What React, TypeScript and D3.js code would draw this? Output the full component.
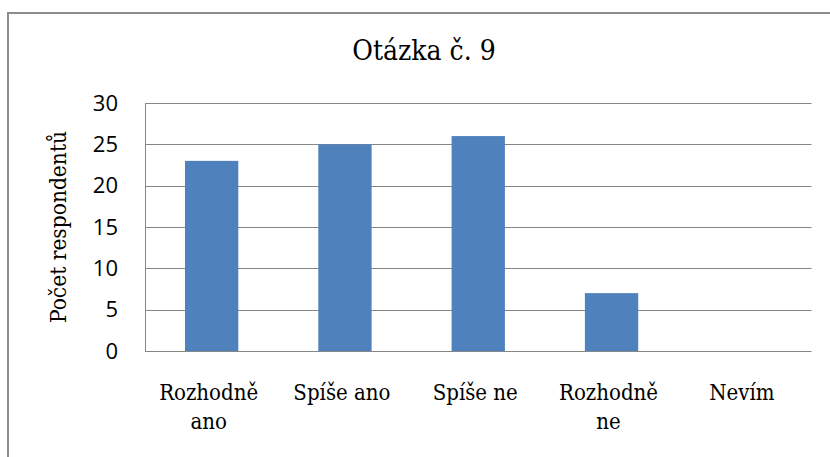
import React, { useRef, useEffect } from "react";
import * as d3 from "d3";

const categories = ["Rozhodně ano", "Spíše ano", "Spíše ne", "Rozhodně ne", "Nevím"];
const values = [23, 25, 26, 7, 0];
const yTicks = [0, 5, 10, 15, 20, 25, 30];
const title = "Otázka č. 9";
const yLabel = "Počet respondentů";

const App = () => {
  const svgRef = useRef<SVGSVGElement>(null);

  useEffect(() => {
    const width = 830;
    const height = 457;
    const plot = { left: 145, right: 811.5, top: 103, bottom: 351 };

    const svg = d3.select(svgRef.current);
    svg.selectAll("*").remove();
    svg.attr("width", width).attr("height", height);

    // outer chart frame (runs off the right and bottom of the picture)
    svg
      .append("rect")
      .attr("x", 8)
      .attr("y", 13)
      .attr("width", 840)
      .attr("height", 460)
      .attr("fill", "#fff")
      .attr("stroke", "#8c8c8c")
      .attr("stroke-width", 2);

    const x = d3
      .scaleBand()
      .domain(categories)
      .range([plot.left, plot.right])
      .paddingInner(0.6)
      .paddingOuter(0.3);

    const y = d3.scaleLinear().domain([0, 30]).range([plot.bottom, plot.top]);

    // gridlines
    svg
      .append("g")
      .selectAll("line")
      .data(yTicks)
      .enter()
      .append("line")
      .attr("x1", plot.left)
      .attr("x2", plot.right)
      .attr("y1", (d) => Math.round(y(d)) + 0.5)
      .attr("y2", (d) => Math.round(y(d)) + 0.5)
      .attr("stroke", "#868686")
      .attr("stroke-width", 1);

    // left axis line
    svg
      .append("line")
      .attr("x1", plot.left + 0.5)
      .attr("x2", plot.left + 0.5)
      .attr("y1", Math.round(y(30)) + 0.5)
      .attr("y2", Math.round(y(0)) + 0.5)
      .attr("stroke", "#868686");

    // y axis labels
    const yAxis = svg
      .append("g")
      .attr("transform", `translate(${plot.left}, 0)`)
      .call(d3.axisLeft(y).tickValues(yTicks).tickSize(0).tickPadding(27));
    yAxis.select(".domain").remove();
    yAxis
      .attr("font-family", "Open Sans")
      .attr("font-size", 22)
      .selectAll("text")
      .attr("fill", "#000");

    // bars
    svg
      .append("g")
      .selectAll("rect")
      .data(values)
      .enter()
      .append("rect")
      .attr("x", (d, i) => x(categories[i]))
      .attr("y", (d) => y(d))
      .attr("width", x.bandwidth())
      .attr("height", (d) => y(0) - y(d))
      .attr("fill", "#4f81bd");

    // category labels, wrapped like the original
    const labels = svg
      .append("g")
      .selectAll("text")
      .data(categories)
      .enter()
      .append("text")
      .attr("x", (d) => x(d) + x.bandwidth() / 2 - 3)
      .attr("y", 400)
      .attr("text-anchor", "middle")
      .attr("font-family", "DejaVu Serif")
      .attr("font-stretch", "condensed")
      .attr("font-size", 22)
      .attr("fill", "#000");

    labels.each(function (d) {
      const el = d3.select(this);
      const words = d.split(" ");
      const cx = x(d) + x.bandwidth() / 2 - 3;
      let line: string[] = [];
      let tspan = el.append("tspan").attr("x", cx).attr("dy", 0);
      words.forEach((w) => {
        line.push(w);
        tspan.text(line.join(" "));
        const node = tspan.node() as SVGTSpanElement;
        if (node.getComputedTextLength() > 115 && line.length > 1) {
          line.pop();
          tspan.text(line.join(" "));
          line = [w];
          tspan = el.append("tspan").attr("x", cx).attr("dy", 29).text(w);
        }
      });
    });

    // title
    svg
      .append("text")
      .attr("x", 424)
      .attr("y", 60)
      .attr("text-anchor", "middle")
      .attr("font-family", "DejaVu Serif")
      .attr("font-stretch", "condensed")
      .attr("font-size", 28)
      .attr("fill", "#000")
      .text(title);

    // y axis title
    svg
      .append("text")
      .attr("transform", `translate(66, ${(plot.top + plot.bottom) / 2}) rotate(-90)`)
      .attr("text-anchor", "middle")
      .attr("font-family", "DejaVu Serif")
      .attr("font-stretch", "condensed")
      .attr("font-size", 22.5)
      .attr("fill", "#000")
      .text(yLabel);
  }, []);

  return (
    <svg
      ref={svgRef}
      style={{ position: "absolute", left: 0, top: 0, display: "block" }}
    ></svg>
  );
};

export default App;
